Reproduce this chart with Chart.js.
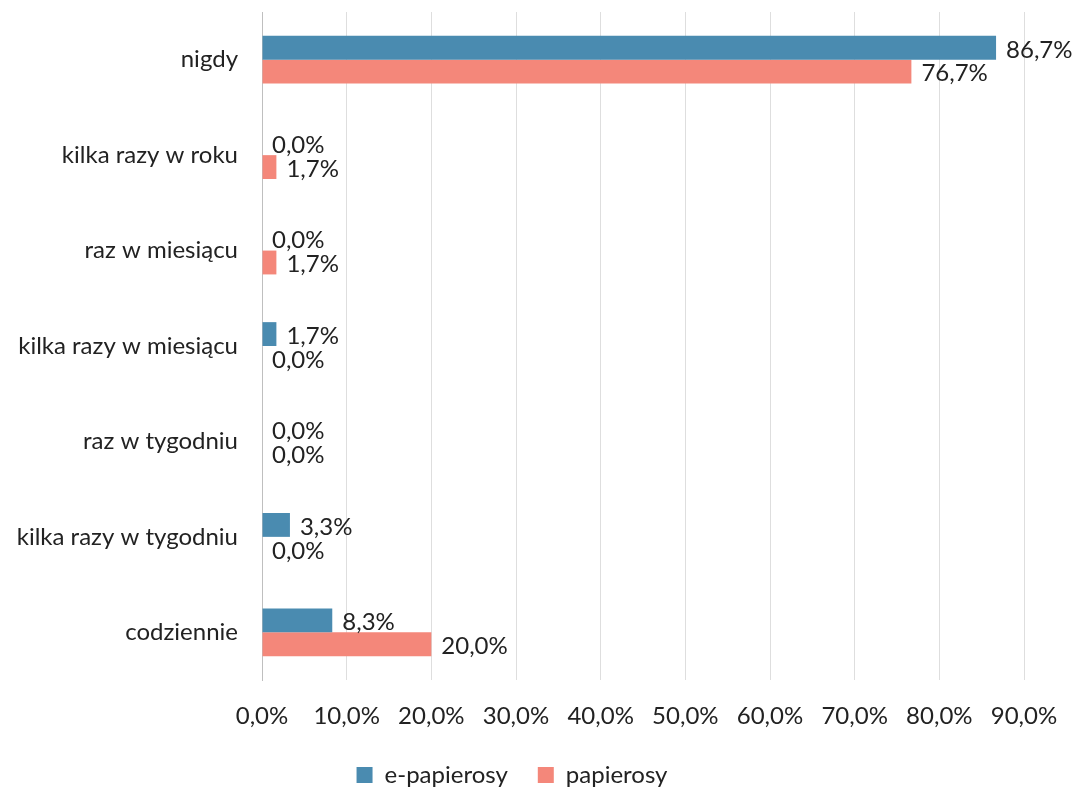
<!DOCTYPE html>
<html>
<head>
<meta charset="utf-8">
<script src="https://cdn.jsdelivr.net/npm/chart.js@4"></script>
<style>
  html, body { margin: 0; padding: 0; background: #fff; }
  #wrap { width: 1074px; height: 789px; }
</style>
</head>
<body>
<div id="wrap"><canvas id="czestoscChart"></canvas></div>
<script>
// Kategorie i wartości
var kategorie = ['nigdy', 'kilka razy w roku', 'raz w miesiącu', 'kilka razy w miesiącu', 'raz w tygodniu', 'kilka razy w tygodniu', 'codziennie'];
var ePapierosy = [86.7, 0.0, 0.0, 1.7, 0.0, 3.3, 8.3];
var papierosy = [76.7, 1.7, 1.7, 0.0, 0.0, 0.0, 20.0];
var osX = [0, 10, 20, 30, 40, 50, 60, 70, 80, 90];

var czcionka = 'Lato, "Open Sans", sans-serif';

function procent(v) {
    return v.toFixed(1).replace('.', ',') + '%';
}

// Etykiety wartości przy końcach słupków
var etykiety = {
    id: 'etykiety',
    afterDatasetsDraw: function(chart) {
        var ctx = chart.ctx;
        ctx.save();
        ctx.font = '24px ' + czcionka;
        ctx.fillStyle = '#222';
        ctx.textAlign = 'left';
        ctx.textBaseline = 'middle';
        chart.data.datasets.forEach(function(ds, i) {
            var meta = chart.getDatasetMeta(i);
            meta.data.forEach(function(bar, j) {
                ctx.fillText(procent(ds.data[j]), bar.x + 10, bar.y + 2);
            });
        });
        ctx.restore();
    }
};

var ctx = document.getElementById('czestoscChart').getContext('2d');

var config = {
    type: 'bar',
    data: {
        labels: kategorie,
        datasets: [{
            label: 'e-papierosy',
            data: ePapierosy,
            backgroundColor: '#4a8bb0'
        }, {
            label: 'papierosy',
            data: papierosy,
            backgroundColor: '#f4877a'
        }]
    },
    options: {
        indexAxis: 'y',
        responsive: true,
        maintainAspectRatio: false,
        animation: false,
        datasets: {
            bar: { categoryPercentage: 0.5, barPercentage: 1.0 }
        },
        layout: { padding: { top: 12, right: 50, left: 0, bottom: -8 } },
        scales: {
            x: {
                min: 0,
                max: 90,
                afterBuildTicks: function(scale) {
                    scale.ticks = osX.map(function(v) { return { value: v }; });
                },
                afterFit: function(scale) {
                    scale.height = 53;
                    scale.paddingLeft = 0;
                    scale.paddingRight = 0;
                },
                ticks: {
                    callback: function(v) { return procent(v); },
                    color: '#222',
                    font: { family: czcionka, size: 24 },
                    padding: 22,
                    maxRotation: 0
                },
                grid: { color: '#dedede', drawTicks: false },
                border: { display: false }
            },
            y: {
                afterFit: function(scale) {
                    scale.width = 262;
                    scale.paddingTop = 0;
                    scale.paddingBottom = 0;
                },
                ticks: {
                    color: '#222',
                    font: { family: czcionka, size: 24 },
                    padding: 24
                },
                grid: { display: false, drawTicks: false },
                border: { display: true, color: '#bfbfbf' }
            }
        },
        plugins: {
            legend: {
                position: 'bottom',
                labels: {
                    color: '#222',
                    font: { family: czcionka, size: 24 },
                    boxWidth: 16,
                    boxHeight: 16,
                    padding: 30
                }
            },
            tooltip: { enabled: false }
        }
    },
    plugins: [etykiety]
};

var myChart = new Chart(ctx, config);
</script>
</body>
</html>
